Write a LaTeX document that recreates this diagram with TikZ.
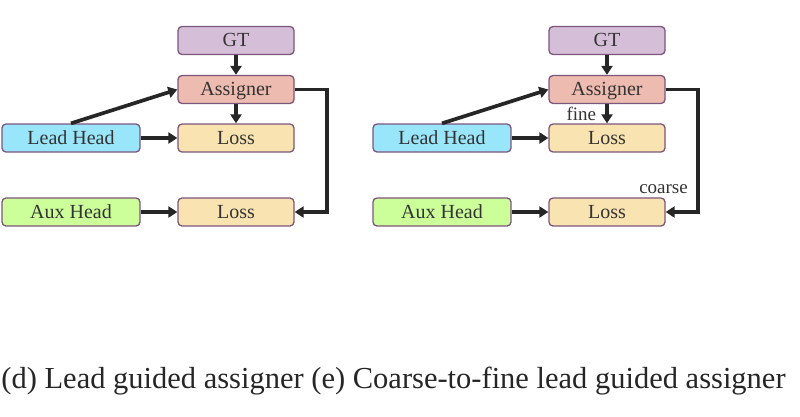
\documentclass[tikz,border=0pt]{standalone}
\usepackage{fontspec}
\setmainfont{LiberationSerif}[Extension=.ttf,UprightFont=*-Regular,BoldFont=*-Bold]
\usepackage{tikz}
\usetikzlibrary{arrows.meta}
\definecolor{gtcol}{RGB}{213,191,216}
\definecolor{asgcol}{RGB}{237,187,175}
\definecolor{losscol}{RGB}{249,227,176}
\definecolor{leadcol}{RGB}{153,230,250}
\definecolor{auxcol}{RGB}{204,255,153}
\definecolor{edgecol}{RGB}{125,85,125}
\definecolor{arrcol}{RGB}{38,38,38}

\begin{document}
\begin{tikzpicture}[x=1pt,y=-1pt,
  box/.style={draw=edgecol,line width=1.3pt,rounded corners=4pt,inner sep=0pt,
    minimum height=28pt,text height=13.5pt,text depth=1.5pt,
    font=\fontsize{20}{24}\selectfont,text=black!80},
  short/.style={box,minimum width=116pt},
  long/.style={box,minimum width=138pt},
  flow/.style={draw=arrcol,line width=3.7pt,-{Triangle[length=9pt,width=11pt]}},
  tag/.style={font=\fontsize{19}{22}\selectfont,text=black!80,inner sep=0pt}]
\useasboundingbox (0,0) rectangle (800,416);
% (d) lead guided
\node[short,fill=gtcol] (gt) at (236,40.5) {GT};
\node[short,fill=asgcol] (asg) at (236,89.5) {Assigner};
\node[short,fill=losscol] (loss) at (236,138) {Loss};
\node[long,fill=leadcol] (lead) at (71,138) {Lead Head};
\node[long,fill=auxcol] (aux) at (71,212) {Aux Head};
\node[short,fill=losscol] (auxloss) at (236,212) {Loss};
\draw[flow] (gt) -- (asg);
\draw[flow] (asg) -- (loss);
\draw[flow] (lead) -- (loss);
\draw[flow] (lead.north) -- (asg.west);
\draw[flow] (aux) -- (auxloss);
\draw[flow,line join=miter] (asg.east) -- ++(32,0) |- (auxloss.east);
% (e) coarse-to-fine
\node[short,fill=gtcol] (gt2) at (607,40.5) {GT};
\node[short,fill=asgcol] (asg2) at (607,89.5) {Assigner};
\node[short,fill=losscol] (loss2) at (607,138) {Loss};
\node[long,fill=leadcol] (lead2) at (442,138) {Lead Head};
\node[long,fill=auxcol] (aux2) at (442,212) {Aux Head};
\node[short,fill=losscol] (auxloss2) at (607,212) {Loss};
\draw[flow] (gt2) -- (asg2);
\draw[flow] (asg2) -- node[tag,left=9pt] {fine} (loss2);
\draw[flow] (lead2) -- (loss2);
\draw[flow] (lead2.north) -- (asg2.west);
\draw[flow] (aux2) -- (auxloss2);
\draw[flow,line join=miter] (asg2.east) -- ++(32,0) |- node[tag,pos=0.405,left=8pt] {coarse} (auxloss2.east);
\node[font=\fontsize{30.5}{34}\selectfont,text=black!85,inner sep=0pt] (cap) at (393.5,381)
  {(d) Lead guided assigner (e) Coarse-to-fine lead guided assigner};
\end{tikzpicture}
\end{document}
